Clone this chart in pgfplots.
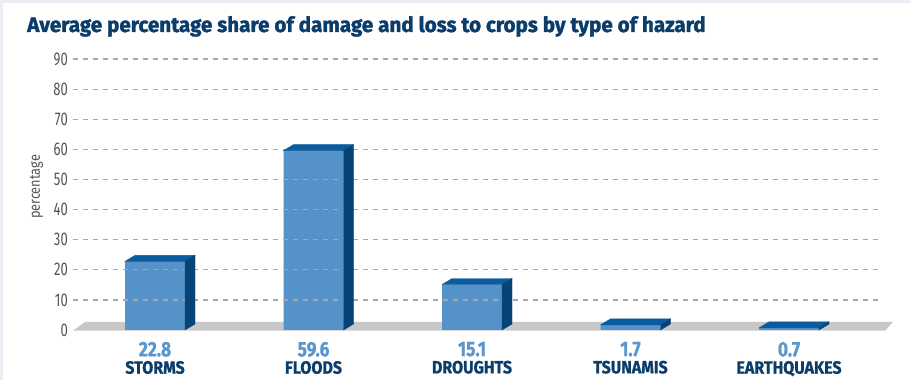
\documentclass[border=0pt]{standalone}
\usepackage{pgfplots}
\usepackage{pgfplotstable}
\usepackage{graphicx}
\pgfplotsset{compat=1.18}
\usepackage{fontspec}
\setmainfont{Fira Sans}
\newfontfamily\titlefont{Fira Sans}[BoldFeatures={FakeBold=1.6}]
\newfontfamily\labelfont{Fira Sans}[BoldFeatures={FakeBold=0.8}]

\definecolor{frontblue}{HTML}{5592C9}
\definecolor{topblue}{HTML}{0B5C9E}
\definecolor{sideblue}{HTML}{064377}
\definecolor{titleblue}{HTML}{0B3D6B}
\definecolor{valblue}{HTML}{5B96CD}
\definecolor{floorgrey}{HTML}{C8C8C8}
\definecolor{gridgrey}{HTML}{A8A8A8}
\definecolor{tickgrey}{HTML}{555555}
\definecolor{framebg}{HTML}{EEEDF5}

% value over category name under each bar
\newcommand\xlab[2]{{\color{valblue}\fontsize{21}{21}\selectfont\scalebox{0.83}[1]{#1}}\\
  {\color{titleblue}\fontsize{17.8}{17.8}\selectfont\scalebox{0.9}[1]{#2}}}

% average share of damage and loss to crops (%)
\pgfplotstableread{
x  share
0  22.8
1  59.6
2  15.1
3  1.7
4  0.7
}\cropdata

% grey floor slab under the bars
\pgfplotstableread{
x        y
-0.5174  -0.23
-0.4416   2.66
 4.6560   2.66
 4.6060  -0.23
}\floordata

\begin{document}
\begin{tikzpicture}
\fill[framebg] (0pt,0pt) rectangle (911pt,380pt);
\useasboundingbox (0pt,0pt) rectangle (911pt,380pt);
\fill[white] (3pt,0pt) rectangle (911pt,377pt);

\node[anchor=base west, inner sep=0pt, text=titleblue] at (27pt,348pt)
  {\scalebox{0.983}[1]{\titlefont\bfseries\fontsize{21}{21}\selectfont Average percentage share of damage and loss to crops by type of hazard}};

\begin{axis}[
  x=158.5pt, y=3.01pt,
  anchor=south west, at={(73pt,50pt)},
  xmin=-0.5174, xmax=4.5615, ymin=0, ymax=90,
  clip=false, axis on top,
  axis line style={draw=none},
  major tick length=0pt,
  ytick={10,20,...,90},
  extra y ticks={0},
  extra y tick style={grid=none},
  ymajorgrids,
  grid style={gridgrey, line width=1.3pt, dash pattern=on 5pt off 5pt},
  /pgf/number format/assume math mode=true,
  yticklabel style={anchor=east, inner sep=0pt, xshift=-5pt, text=tickgrey,
    font=\fontsize{18.4}{18.4}\selectfont},
  yticklabel={\scalebox{0.71}[1]{\pgfmathprintnumber{\tick}}},
  xtick={0,...,4},
  xticklabels={\xlab{22.8}{STORMS},\xlab{59.6}{FLOODS},\xlab{15.1}{DROUGHTS},
    \xlab{1.7}{TSUNAMIS},\xlab{0.7}{EARTHQUAKES}},
  xticklabel style={anchor=north, align=center, inner sep=0pt, yshift=-11.7pt,
    font=\labelfont\bfseries\fontsize{17.8}{17.3}\selectfont},
  ylabel={\scalebox{0.85}[1]{percentage}},
  every axis y label/.style={at={(axis description cs:-0.0453,0.528)}, rotate=90, anchor=center,
    text=tickgrey, font=\fontsize{15}{15}\selectfont},
]
\addplot[fill=floorgrey, draw=none] table[x=x, y=y] {\floordata} -- cycle;

\addplot[ybar, bar width=60pt, fill=frontblue, draw=none] table[x=x, y=share] {\cropdata};

% top and side faces of each bar, drawn at the bar's top front edge
\addplot[only marks, scatter, mark=*, mark size=0pt,
  visualization depends on={rawy \as \barval},
  scatter/@pre marker code/.code={%
    \pgfmathsetmacro\frontbot{-\barval*3.01}%
    \pgfmathsetmacro\backbot{6-\barval*3.01}%
    \fill[topblue] (-30pt,0pt) -- (30pt,0pt) -- (40pt,6pt) -- (-20pt,6pt) -- cycle;
    \fill[sideblue] (30pt,0pt) -- (40pt,6pt) -- (40pt,\backbot pt) -- (30pt,\frontbot pt) -- cycle;
    \begin{scope}[opacity=0]},
  scatter/@post marker code/.code={\end{scope}},
] table[x=x, y=share] {\cropdata};
\end{axis}
\end{tikzpicture}
\end{document}
